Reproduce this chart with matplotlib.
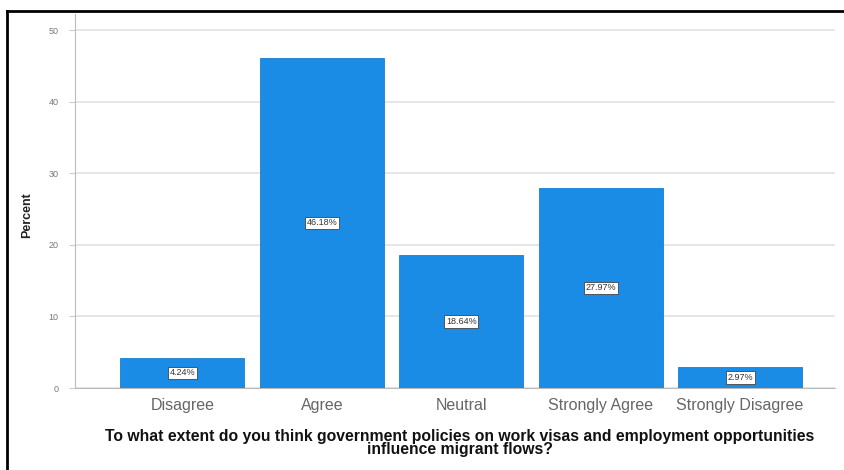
import matplotlib
matplotlib.use("Agg")
import matplotlib.pyplot as plt
from matplotlib.lines import Line2D

categories = ["Disagree", "Agree", "Neutral", "Strongly Agree", "Strongly Disagree"]
percent = [4.24, 46.18, 18.64, 27.97, 2.97]
labels = ["4.24%", "46.18%", "18.64%", "27.97%", "2.97%"]
yticks = [0, 10, 20, 30, 40, 50]

plt.rcParams["font.family"] = ["Liberation Sans", "DejaVu Sans"]

W, H = 845, 470
fig = plt.figure(figsize=(W / 100, H / 100), dpi=100)
fig.patch.set_facecolor("white")

# outer frame (left and top edges visible)
fig.add_artist(Line2D([7 / W, 7 / W], [0, 1 - 11 / H], transform=fig.transFigure, color="black", lw=2))
fig.add_artist(Line2D([7 / W, 1], [1 - 11 / H, 1 - 11 / H], transform=fig.transFigure, color="black", lw=2))

ax = fig.add_axes([75 / W, 1 - 388 / H, (835 - 75) / W, (388 - 14) / H])
x = list(range(len(categories)))
ax.bar(x, percent, width=0.89, color="#1a8ce6", edgecolor="#1a7fd0", linewidth=0.6, zorder=3)
ax.set_xlim(-0.77, 4.68)
ax.set_ylim(0, 52.3)
ax.set_yticks(yticks)
ax.set_yticklabels([str(t) for t in yticks], fontsize=6.5, color="#777777")
ax.set_xticks(x)
ax.set_xticklabels(categories, fontsize=11.5, color="#666666")
ax.tick_params(axis="x", length=0, pad=7)
ax.tick_params(axis="y", length=4, color="#cccccc", pad=8)
ax.grid(axis="y", color="#e2e2e2", lw=1.2, zorder=0)
for s in ["top", "right"]:
    ax.spines[s].set_visible(False)
ax.spines["left"].set_color("#bbbbbb")
ax.spines["bottom"].set_color("#bbbbbb")

for xi, v, lab in zip(x, percent, labels):
    ax.text(xi, v / 2, lab, ha="center", va="center", fontsize=6.5, color="#333333", zorder=4,
            bbox=dict(boxstyle="square,pad=0.2", fc="white", ec="#444444", lw=0.6))

ax.set_ylabel("Percent", fontsize=9, fontweight="bold", color="#222222")
ax.yaxis.set_label_coords((33 - 75) / (835 - 75), (388 - 215) / (388 - 14))

fig.text(460 / W, 1 - 443 / H,
         "To what extent do you think government policies on work visas and employment opportunities\ninfluence migrant flows?",
         ha="center", va="center", fontsize=11.3, fontweight="bold", color="#111111", linespacing=0.8)

fig.savefig("out.png", dpi=100)
